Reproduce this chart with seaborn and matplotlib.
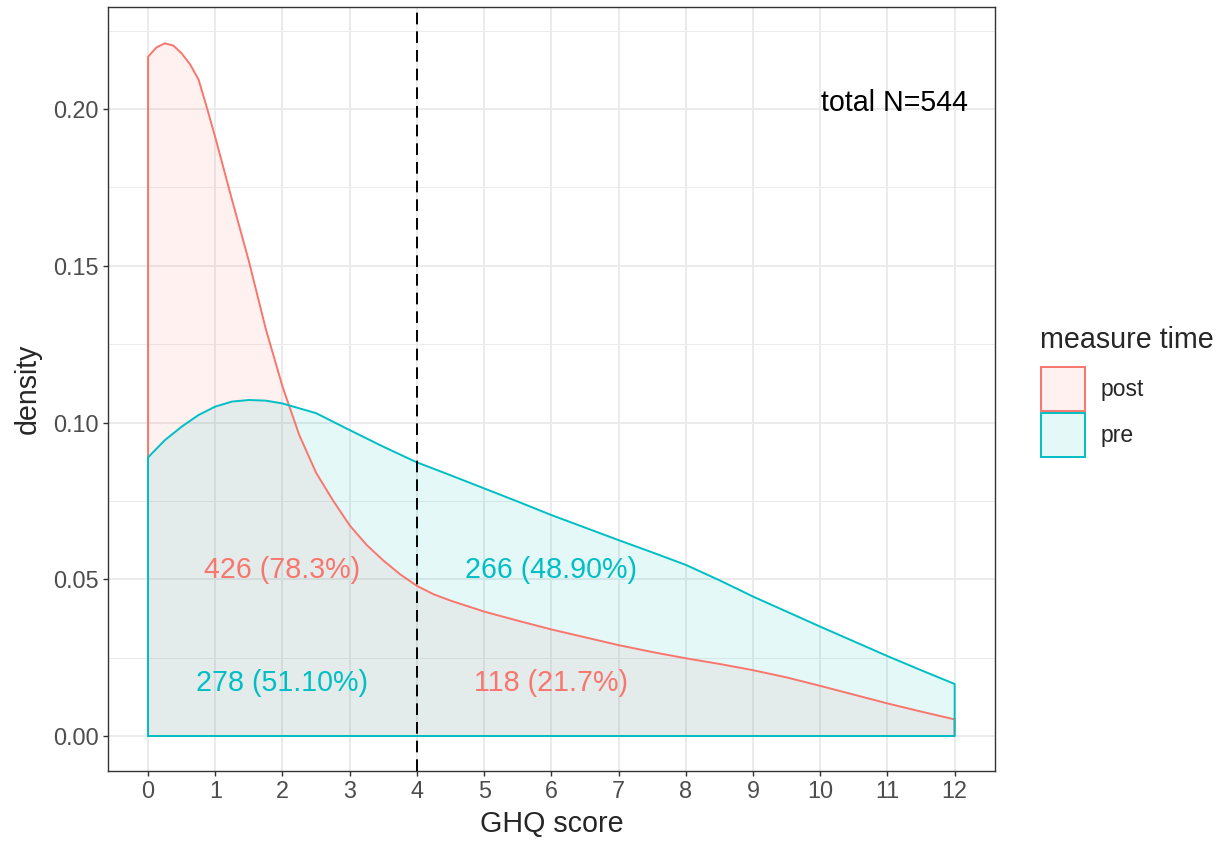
import numpy as np
import pandas as pd
import matplotlib
matplotlib.use("Agg")
import matplotlib.pyplot as plt
import seaborn as sns
from matplotlib.patches import Patch

# density curves (GHQ score 0..12)
post_x = [0, 0.125, 0.25, 0.375, 0.5, 0.625, 0.75, 0.875, 1.0, 1.125, 1.25, 1.5,
          1.75, 2.0, 2.25, 2.5, 2.75, 3.0, 3.25, 3.5, 3.75, 4.0, 4.25, 4.5, 5.0,
          5.5, 6.0, 6.5, 7.0, 7.5, 8.0, 8.5, 9.0, 9.5, 10.0, 10.5, 11.0, 11.5, 12.0]
post_density = [0.2167, 0.2197, 0.2210, 0.2203, 0.2178, 0.2143, 0.2095, 0.2005,
                0.1910, 0.1810, 0.1710, 0.1515, 0.1300, 0.1115, 0.0960, 0.0840,
                0.0752, 0.0672, 0.0610, 0.0560, 0.0516, 0.0479, 0.0452, 0.0432,
                0.0397, 0.0368, 0.0340, 0.0315, 0.0290, 0.0268, 0.0248, 0.0230,
                0.0210, 0.0187, 0.0160, 0.0132, 0.0104, 0.0078, 0.0053]
pre_x = [0, 0.25, 0.5, 0.75, 1.0, 1.25, 1.5, 1.75, 2.0, 2.5, 3.0, 3.5, 4.0, 4.5,
         5.0, 5.5, 6.0, 6.5, 7.0, 7.5, 8.0, 8.5, 9.0, 9.5, 10.0, 10.5, 11.0,
         11.5, 12.0]
pre_density = [0.0889, 0.0944, 0.0987, 0.1024, 0.1051, 0.1067, 0.1072, 0.1070,
               0.1061, 0.1030, 0.0976, 0.0923, 0.0873, 0.0832, 0.0790, 0.0748,
               0.0705, 0.0665, 0.0625, 0.0586, 0.0546, 0.0497, 0.0445, 0.0397,
               0.0349, 0.0302, 0.0255, 0.0210, 0.0166]

groups = ["post", "pre"]
colors = {"post": "#F8766D", "pre": "#00BFC4"}
cutoff = 4

# count labels
label_text = ["426 (78.3%)", "266 (48.90%)", "278 (51.10%)", "118 (21.7%)"]
label_group = ["post", "pre", "pre", "post"]
label_x = [2, 6, 2, 6]
label_y = [0.053, 0.053, 0.017, 0.017]
total_text = "total N=544"

rows = []
for g, gx, dens in zip(groups, [post_x, pre_x], [post_density, pre_density]):
    # closed outline like ggplot's geom_density (down to 0 at both ends)
    xs = [gx[0]] + gx + [gx[-1], gx[0]]
    ys = [0] + dens + [0, 0]
    for i, (a, b) in enumerate(zip(xs, ys)):
        rows.append({"order": i, "GHQ": a, "density": b, "time": g})
df = pd.DataFrame(rows)

sns.set_style("white")
plt.rcParams["font.family"] = ["Liberation Sans", "DejaVu Sans"]

fig = plt.figure(figsize=(12.27, 8.46), dpi=100)
ax = fig.add_axes([0.0878, 0.089, 0.7231, 0.9024])

for g in groups:
    sub = df[df.time == g]
    ax.fill(sub.GHQ, sub.density, facecolor=colors[g], alpha=0.1, lw=0, zorder=2)
    sns.lineplot(data=sub, x="GHQ", y="density", sort=False, estimator=None,
                 color=colors[g], lw=1.4, ax=ax, zorder=3)

ax.axvline(cutoff, color="black", lw=1.4, dashes=(6, 3.6), zorder=4)

for t, g, x, y in zip(label_text, label_group, label_x, label_y):
    ax.text(x, y, t, color=colors[g], fontsize=20.6, ha="center", va="center", zorder=5)
ax.text(11.11, 0.202, total_text, color="black", fontsize=20.6, ha="center", va="center")

ax.set_xlim(-0.6, 12.6)
ax.set_ylim(-0.01107, 0.2325)
ax.set_xticks(range(0, 13))
ax.set_yticks([0, 0.05, 0.10, 0.15, 0.20])
ax.set_yticklabels(["0.00", "0.05", "0.10", "0.15", "0.20"])
ax.set_yticks([0.025, 0.075, 0.125, 0.175, 0.225], minor=True)

ax.grid(True, which="major", color="#EBEBEB", lw=1.4, zorder=0)
ax.grid(True, which="minor", axis="y", color="#EBEBEB", lw=0.7, zorder=0)
ax.set_axisbelow(True)
for s in ax.spines.values():
    s.set_color("#333333")
    s.set_linewidth(1.0)
ax.tick_params(axis="both", which="major", length=3.7, width=1.0, color="#333333",
               labelsize=16.8, labelcolor="#4D4D4D", pad=3, bottom=True, left=True)
ax.tick_params(axis="both", which="minor", length=0)

ax.set_xlabel("GHQ score", fontsize=20.6, labelpad=5)
ax.set_ylabel("density", fontsize=20.6, labelpad=8)

# legend: title placed on its own, keys below it
fig.text(1040 / 1227, 1 - 340 / 846, "measure time", fontsize=20.6,
         ha="left", va="center")
handles = [Patch(facecolor=matplotlib.colors.to_rgba(colors[g], 0.1),
                 edgecolor=colors[g], lw=1.4) for g in groups]
leg = fig.legend(handles, groups, loc="upper left",
                 bbox_to_anchor=(1032 / 1227, 1 - 358 / 846), frameon=False,
                 fontsize=16.5, handlelength=1.9, handleheight=2.55,
                 handletextpad=0.7, labelspacing=0.1, borderaxespad=0)

fig.savefig("out.png", dpi=100)
